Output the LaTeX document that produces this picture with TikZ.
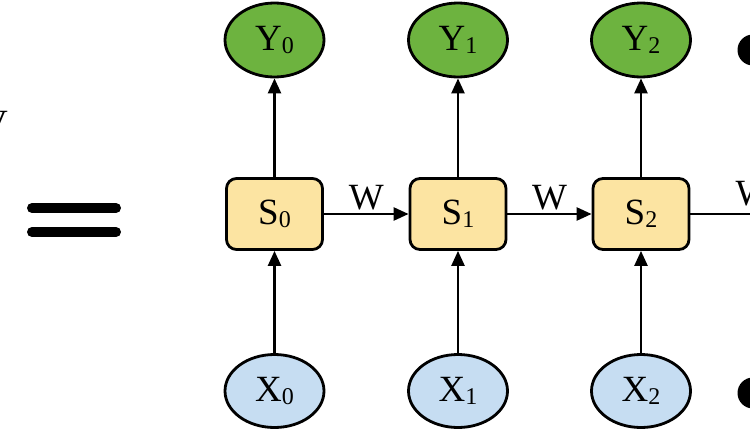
\documentclass[tikz,border=0pt]{standalone}
\usepackage{fontspec}
\setmainfont{Liberation Serif}
\usetikzlibrary{arrows.meta,shapes.geometric}
\definecolor{ygreen}{HTML}{6DB33F}
\definecolor{xblue}{HTML}{C6DDF2}
\definecolor{syellow}{HTML}{FCE4A2}
\newcommand{\lbl}[2]{{\fontsize{37}{40}\selectfont #1\raisebox{-3pt}{\fontsize{24}{26}\selectfont #2}}}
\begin{document}
\begin{tikzpicture}[x=1pt,y=-1pt,
  outnode/.style={ellipse, draw, line width=2.8pt, fill=ygreen, minimum width=99pt, minimum height=74pt, inner sep=0pt},
  innode/.style={ellipse, draw, line width=2.8pt, fill=xblue, minimum width=99pt, minimum height=73pt, inner sep=0pt},
  statenode/.style={rectangle, rounded corners=10pt, draw, line width=2.8pt, fill=syellow, minimum width=96pt, minimum height=71pt, inner sep=0pt},
  conn/.style={line width=2.5pt, -{Triangle[length=15pt,width=13pt]}},
  wlab/.style={font=\fontsize{37}{40}\selectfont, inner sep=0pt},
  eqbar/.style={line width=10pt, line cap=round}]
\useasboundingbox (0,0) rectangle (750,431);
\clip (0,0) rectangle (750,431);
% equals sign
\coordinate (e1a) at (32,208); \coordinate (e1b) at (116,208);
\coordinate (e2a) at (32,232); \coordinate (e2b) at (116,232);
\draw[eqbar] (e1a) -- (e1b);
\draw[eqbar] (e2a) -- (e2b);
% partial V at left edge
\node[wlab, anchor=base east] (vlab) at (8,135) {V};
% nodes
\node[outnode] (y0) at (274.5,40) {\lbl{Y}{0}};
\node[outnode] (y1) at (458,40) {\lbl{Y}{1}};
\node[outnode] (y2) at (641,40) {\lbl{Y}{2}};
\node[statenode] (s0) at (274.5,214) {\lbl{S}{0}};
\node[statenode] (s1) at (458,214) {\lbl{S}{1}};
\node[statenode] (s2) at (641,214) {\lbl{S}{2}};
\node[innode] (x0) at (274.5,391) {\lbl{X}{0}};
\node[innode] (x1) at (458,391) {\lbl{X}{1}};
\node[innode] (x2) at (641,391) {\lbl{X}{2}};
% dots at right edge
\fill (753,50) circle (15.5pt);
\fill (753,393) circle (15.5pt);
% connectors
\foreach \i in {0,1,2}{
  \draw[conn] (x\i) -- (s\i);
  \draw[conn] (s\i) -- (y\i);
}
\draw[conn] (s0) -- node[wlab, above=3pt] (w0) {W} (s1);
\draw[conn] (s1) -- node[wlab, above=3pt] (w1) {W} (s2);
\coordinate (sout) at (800,214);
\draw[line width=2.5pt] (s2) -- (sout);
\node[wlab, anchor=base] (w2) at (753,205) {W};
\end{tikzpicture}
\end{document}
